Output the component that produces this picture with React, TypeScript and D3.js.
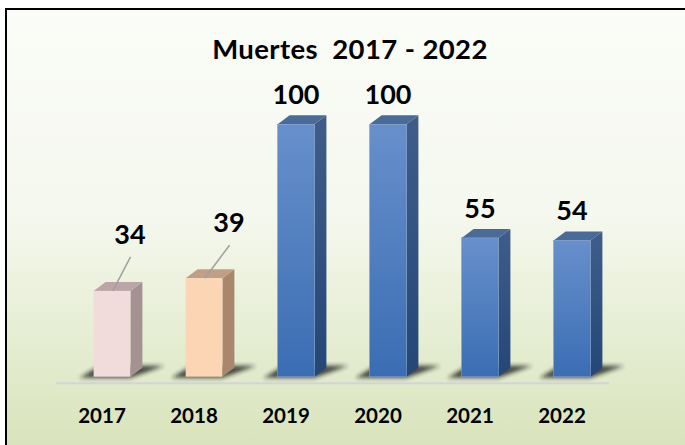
import React from "react";
import * as d3 from "d3";

const years = ["2017", "2018", "2019", "2020", "2021", "2022"];
const deaths = [34, 39, 100, 100, 55, 54];
const frontColors = ["#f2dcdb", "#fcd5b4", "#4f81bd", "#4f81bd", "#4f81bd", "#4f81bd"];
const sideColors = ["#a49191", "#a8876c", "#2f4f7c", "#2f4f7c", "#2f4f7c", "#2f4f7c"];
const topColors = ["#bba6a5", "#c19f86", "#4a6a98", "#4a6a98", "#4a6a98", "#4a6a98"];
const title = "Muertes  2017 - 2022";

const W = 685;
const H = 445;
const FONT = "Lato, 'Open Sans', sans-serif";

export default function App() {
  const x = d3.scaleBand<string>().domain(years).range([66, 618]).paddingInner(0.6).paddingOuter(0.3);
  const y = d3.scaleLinear().domain([0, 100]).range([376.7, 124.3]);
  const dx = 12;
  const dy = 9;
  const bw = x.bandwidth();
  const base = y(0);

  return (
    <svg width={W} height={H} style={{ position: "absolute", left: 0, top: 0 }} xmlns="http://www.w3.org/2000/svg">
      <defs>
        <linearGradient id="bg" x1="0" y1="0" x2="0" y2="1">
          <stop offset="0" stopColor="#fafcf7" />
          <stop offset="0.45" stopColor="#f5f8ee" />
          <stop offset="1" stopColor="#d6e2b7" />
        </linearGradient>
        <linearGradient id="blueFront" x1="0" y1="0" x2="0" y2="1">
          <stop offset="0" stopColor="#6790cb" />
          <stop offset="1" stopColor="#3b6db3" />
        </linearGradient>
        <linearGradient id="blueSide" x1="0" y1="0" x2="0" y2="1">
          <stop offset="0" stopColor="#405d8a" />
          <stop offset="1" stopColor="#244777" />
        </linearGradient>
        <filter id="blur" x="-50%" y="-50%" width="200%" height="200%">
          <feGaussianBlur stdDeviation="2.2" />
        </filter>
      </defs>
      <rect x={0} y={0} width={W} height={H} fill="#ffffff" />
      <rect x={6} y={9} width={W + 10} height={H + 10} fill="url(#bg)" stroke="#000" strokeWidth={2} />

      <text x={350} y={58.5} textAnchor="middle" fontFamily={FONT} fontWeight="bold" fontSize={27.5} letterSpacing={0.4} fill="#000" style={{ whiteSpace: "pre" }}>
        {title}
      </text>

      {/* floor line */}
      <line x1={56} x2={609} y1={383.3} y2={383.3} stroke="#d3d3da" strokeWidth={2} />

      {/* shadows */}
      {years.map((yr) => {
        const x0 = x(yr)!;
        const x1 = x0 + bw;
        const pts = [
          [x0 - 14, base + 1],
          [x1, base + 1],
          [x1 + dx + 22, base - dy - 2],
          [x0 + 6, base - dy - 2],
        ];
        return (
          <polygon key={"s" + yr} points={pts.map((p) => p.join(",")).join(" ")} fill="#1e1e1e" opacity={0.8} filter="url(#blur)" />
        );
      })}

      {/* bars */}
      {years.map((yr, i) => {
        const x0 = x(yr)!;
        const x1 = x0 + bw;
        const top = y(deaths[i]);
        const blue = i >= 2;
        const side = `${x1},${top} ${x1 + dx},${top - dy} ${x1 + dx},${base - dy} ${x1},${base}`;
        const topFace = `${x0},${top} ${x0 + dx},${top - dy} ${x1 + dx},${top - dy} ${x1},${top}`;
        return (
          <g key={"b" + yr}>
            <polygon points={side} fill={blue ? "url(#blueSide)" : sideColors[i]} />
            <polygon points={topFace} fill={topColors[i]} />
            <rect x={x0} y={top} width={bw} height={base - top} fill={blue ? "url(#blueFront)" : frontColors[i]} stroke={blue ? "#7f9fd0" : "none"} strokeWidth={0.6} />
          </g>
        );
      })}

      {/* value labels */}
      {years.map((yr, i) => {
        const cx = x(yr)! + bw / 2;
        const top = y(deaths[i]);
        const leader = deaths[i] < 50;
        const lx = leader ? cx + (i === 0 ? 18 : 25) : cx;
        const ly = leader ? top - (i === 0 ? 47 : 46) : top - 20;
        return (
          <g key={"v" + yr}>
            {leader && (
              <line x1={lx + 0.5} y1={ly + 13} x2={cx + 0.8} y2={top} stroke="#a0a0a0" strokeWidth={1.5} />
            )}
            <text x={lx} y={ly} textAnchor="middle" fontFamily={FONT} fontWeight="bold" fontSize={27} fill="#000">
              {deaths[i]}
            </text>
          </g>
        );
      })}

      {/* category labels */}
      {years.map((yr) => (
        <text key={"c" + yr} x={x(yr)! + bw / 2 - 10} y={423.3} textAnchor="middle" fontFamily={FONT} fontWeight="bold" fontSize={20.5} fill="#000">
          {yr}
        </text>
      ))}
    </svg>
  );
}
